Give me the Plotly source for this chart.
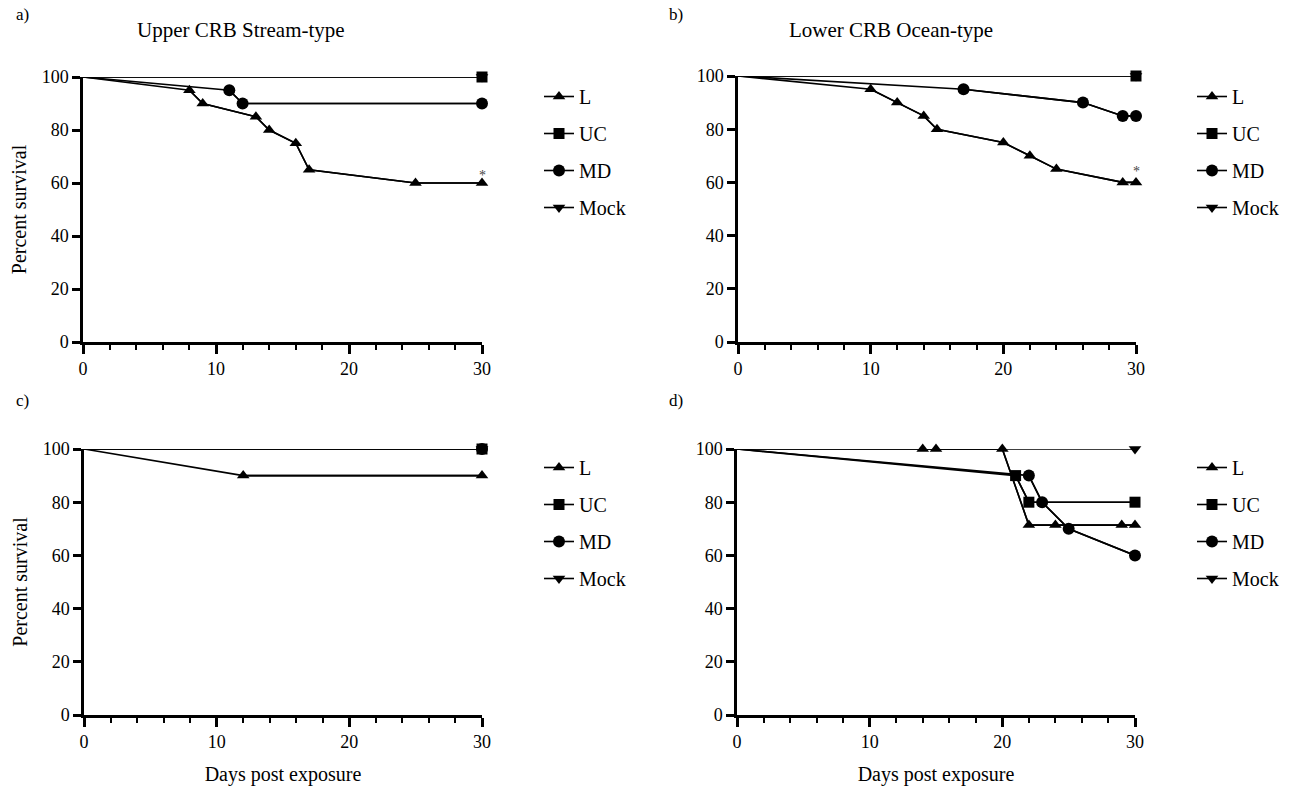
import plotly.graph_objects as go

# ---------------- data ----------------
panels = ["a", "b", "c", "d"]
titles = {"a": "Upper CRB Stream-type", "b": "Lower CRB Ocean-type"}
series_names = ["L", "UC", "MD", "Mock"]

# panel a
a_L_x = [0, 8, 9, 13, 14, 16, 17, 25, 30]
a_L_y = [100, 95, 90, 85, 80, 75, 65, 60, 60]
a_UC_x = [0, 30]
a_UC_y = [100, 100]
a_MD_x = [0, 11, 12, 30]
a_MD_y = [100, 95, 90, 90]
a_Mock_x = [0, 30]
a_Mock_y = [100, 100]

# panel b
b_L_x = [0, 10, 12, 14, 15, 20, 22, 24, 29, 30]
b_L_y = [100, 95, 90, 85, 80, 75, 70, 65, 60, 60]
b_UC_x = [0, 30]
b_UC_y = [100, 100]
b_MD_x = [0, 17, 26, 29, 30]
b_MD_y = [100, 95, 90, 85, 85]
b_Mock_x = [0, 30]
b_Mock_y = [100, 100]

# panel c
c_L_x = [0, 12, 30]
c_L_y = [100, 90, 90]
c_UC_x = [0, 30]
c_UC_y = [100, 100]
c_MD_x = [0, 30]
c_MD_y = [100, 100]
c_Mock_x = [0, 30]
c_Mock_y = [100, 100]

# panel d
d_L_x = [0, 14, 15, 20, 22, 24, 29, 30]
d_L_y = [100, 100, 100, 100, 71.4, 71.4, 71.4, 71.4]
d_UC_x = [0, 21, 22, 30]
d_UC_y = [100, 90, 80, 80]
d_MD_x = [0, 22, 23, 25, 30]
d_MD_y = [100, 90, 80, 70, 60]
d_Mock_x = [0, 30]
d_Mock_y = [100, 100]

data = {
    "a": {"L": (a_L_x, a_L_y), "UC": (a_UC_x, a_UC_y), "MD": (a_MD_x, a_MD_y), "Mock": (a_Mock_x, a_Mock_y)},
    "b": {"L": (b_L_x, b_L_y), "UC": (b_UC_x, b_UC_y), "MD": (b_MD_x, b_MD_y), "Mock": (b_Mock_x, b_Mock_y)},
    "c": {"L": (c_L_x, c_L_y), "UC": (c_UC_x, c_UC_y), "MD": (c_MD_x, c_MD_y), "Mock": (c_Mock_x, c_Mock_y)},
    "d": {"L": (d_L_x, d_L_y), "UC": (d_UC_x, d_UC_y), "MD": (d_MD_x, d_MD_y), "Mock": (d_Mock_x, d_Mock_y)},
}
significance = {"a": (30, 63, "*"), "b": (30, 64, "*")}

x_ticks = [0, 10, 20, 30]
y_ticks = [0, 20, 40, 60, 80, 100]

# ---------------- style ----------------
FONT = "Liberation Serif, Times New Roman, serif"
W, H = 1302, 789
symbols = {"L": "triangle-up", "UC": "square", "MD": "circle", "Mock": "triangle-down"}
msize = {"L": 11, "UC": 11, "MD": 12, "Mock": 11}
draw_order = ["Mock", "MD", "L", "UC"]
rank = {n: i + 1 for i, n in enumerate(series_names)}

def px_x(p):
    return p / W

def px_y(p):
    return 1 - p / H

# plot-area pixel boxes (left, right, top, bottom)
boxes = {
    "a": (83, 482, 77, 342),
    "b": (738, 1136, 76, 342),
    "c": (84, 482, 449, 715),
    "d": (737, 1135, 449, 715),
}
legend_pos = {"a": (539, 77), "b": (1192, 77), "c": (539, 448), "d": (1192, 448)}

fig = go.Figure()
layout = {}
for i, p in enumerate(panels):
    suffix = "" if i == 0 else str(i + 1)
    xa, ya = "x" + suffix, "y" + suffix
    leg = "legend" if i == 0 else "legend" + str(i + 1)
    for name in draw_order:
        xs, ys = data[p][name]
        # full curve (starts at day 0 without a symbol)
        fig.add_trace(go.Scatter(
            x=xs, y=ys, mode="lines", showlegend=False,
            xaxis=xa, yaxis=ya, line=dict(color="black", width=1.6),
            cliponaxis=False, hoverinfo="skip",
        ))
        # event / censor symbols
        fig.add_trace(go.Scatter(
            x=xs[1:], y=ys[1:], mode="lines+markers", name=name,
            xaxis=xa, yaxis=ya, legend=leg, legendgroup=p + name, legendrank=rank[name],
            line=dict(color="black", width=1.6),
            marker=dict(symbol=symbols[name], size=msize[name], color="black",
                        opacity=1, line=dict(width=0)),
            cliponaxis=False, hoverinfo="skip",
        ))
    l, r, t, b = boxes[p]
    xkey = "xaxis" + suffix
    ykey = "yaxis" + suffix
    layout[xkey] = dict(
        domain=[px_x(l), px_x(r)], anchor=ya, range=[0, 30], tickvals=x_ticks,
        showline=True, linecolor="black", linewidth=2.5, ticks="outside", ticklen=9,
        tickwidth=2.5, tickcolor="black", showgrid=False, zeroline=False,
        minor=dict(dtick=2, tick0=0, ticks="outside", ticklen=5, tickwidth=2, tickcolor="black", showgrid=False),
        tickfont=dict(family=FONT, size=18, color="black"),
        title=dict(text="Days post exposure" if p in ("c", "d") else "", standoff=16,
                   font=dict(family=FONT, size=20, color="black")),
    )
    layout[ykey] = dict(
        domain=[px_y(b), px_y(t)], anchor=xa, range=[0, 100], tickvals=y_ticks,
        showline=True, linecolor="black", linewidth=2.5, ticks="outside", ticklen=8,
        tickwidth=2.5, tickcolor="black", showgrid=False, zeroline=False,
        tickfont=dict(family=FONT, size=18, color="black"),
        title=dict(text="Percent survival" if p in ("a", "c") else "", standoff=10,
                   font=dict(family=FONT, size=20, color="black")),
    )
    lx, ly = legend_pos[p]
    layout[leg] = dict(
        x=px_x(lx), y=px_y(ly), xanchor="left", yanchor="top",
        bgcolor="rgba(0,0,0,0)", borderwidth=0, traceorder="grouped", tracegroupgap=8,
        font=dict(family=FONT, size=20, color="black"),
    )

annotations = []
label_pos = {"a": (22, 14), "b": (676, 14), "c": (22, 400), "d": (676, 400)}
for p in panels:
    lx, ly = label_pos[p]
    annotations.append(dict(text=p + ")", x=px_x(lx), y=px_y(ly), xref="paper", yref="paper",
                            xanchor="center", yanchor="middle", showarrow=False,
                            font=dict(family=FONT, size=17, color="black")))
title_pos = {"a": (241, 30), "b": (891, 30)}
for p, (tx, ty) in title_pos.items():
    annotations.append(dict(text=titles[p], x=px_x(tx), y=px_y(ty), xref="paper", yref="paper",
                            xanchor="center", yanchor="middle", showarrow=False,
                            font=dict(family=FONT, size=21, color="black")))
for i, p in enumerate(panels):
    if p in significance:
        suffix = "" if i == 0 else str(i + 1)
        sx, sy, st = significance[p]
        annotations.append(dict(text=st, x=sx, y=sy, xref="x" + suffix, yref="y" + suffix,
                                xanchor="center", yanchor="middle", showarrow=False,
                                font=dict(family=FONT, size=14, color="#444444")))

fig.update_layout(
    width=W, height=H, margin=dict(l=0, r=0, t=0, b=0, autoexpand=False),
    paper_bgcolor="white", plot_bgcolor="white",
    annotations=annotations, **layout,
)
fig.write_html("out.html", post_script="document.body.style.margin='0';")
